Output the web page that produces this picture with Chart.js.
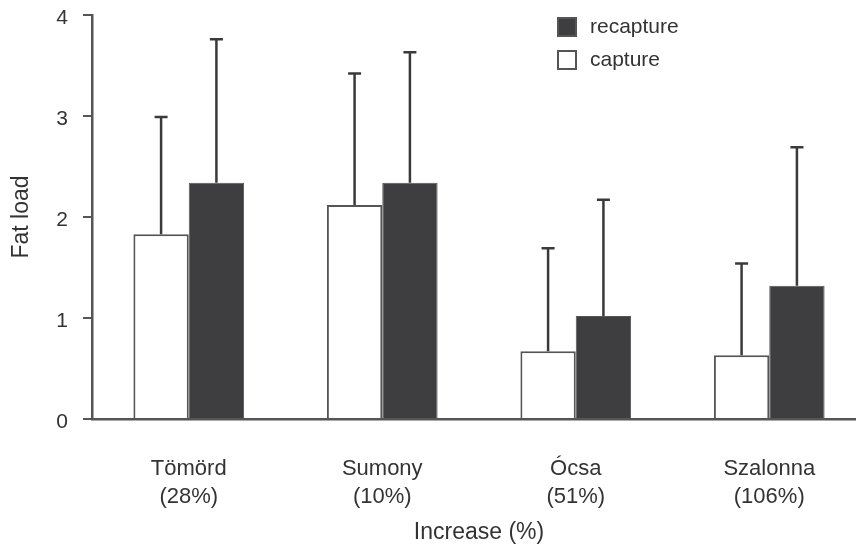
<!DOCTYPE html>
<html>
<head>
<meta charset="utf-8">
<script src="https://cdn.jsdelivr.net/npm/chart.js@4.4.1/dist/chart.umd.min.js"></script>
<style>
  html, body { margin: 0; padding: 0; background: #fff; overflow: hidden; }
  #wrap { width: 866px; height: 544px; position: relative; }
</style>
</head>
<body>
<div id="wrap"><canvas id="chart"></canvas></div>
<script>
const sites = ["Tömörd", "Sumony", "Ócsa", "Szalonna"];
const increases = ["28%", "10%", "51%", "106%"];
const capture = [1.83, 2.12, 0.67, 0.63];
const captureSD = [1.16, 1.30, 1.02, 0.91];
const recapture = [2.34, 2.34, 1.02, 1.32];
const recaptureSD = [1.42, 1.29, 1.15, 1.37];
const yTicks = [0, 1, 2, 3, 4];

const textColor = "#333";
const axisColor = "#555";
const darkFill = "#3e3e40";
const family = "'Liberation Sans', Arial, sans-serif";

Chart.defaults.font.family = family;
Chart.defaults.color = textColor;

// error bars: upward whisker from bar top with a small cap
const errorBars = {
  id: 'errorBars',
  afterDatasetsDraw(chart) {
    const ctx = chart.ctx;
    const y = chart.scales.y;
    ctx.save();
    ctx.strokeStyle = "#3a3a3a";
    ctx.lineWidth = 2.5;
    chart.data.datasets.forEach((ds, di) => {
      const meta = chart.getDatasetMeta(di);
      meta.data.forEach((bar, i) => {
        const top = y.getPixelForValue(ds.data[i] + ds.errors[i]);
        ctx.beginPath();
        ctx.moveTo(bar.x, bar.y);
        ctx.lineTo(bar.x, top);
        ctx.moveTo(bar.x - 6.5, top);
        ctx.lineTo(bar.x + 6.5, top);
        ctx.stroke();
      });
    });
    ctx.restore();
  }
};

// legend drawn inside the plot, recapture listed first
const boxLegend = {
  id: 'boxLegend',
  afterDraw(chart) {
    const ctx = chart.ctx;
    const items = chart.data.datasets.slice().reverse();
    ctx.save();
    items.forEach((ds, i) => {
      const top = 18 + i * 33;
      ctx.fillStyle = ds.backgroundColor;
      ctx.fillRect(558, top, 18, 18);
      ctx.strokeStyle = axisColor;
      ctx.lineWidth = 2;
      ctx.strokeRect(558, top, 18, 18);
      ctx.fillStyle = textColor;
      ctx.font = "21px " + family;
      ctx.textBaseline = "middle";
      ctx.textAlign = "left";
      ctx.fillText(ds.label, 590, top + 9);
    });
    ctx.restore();
  }
};

new Chart(document.getElementById('chart'), {
  type: 'bar',
  data: {
    labels: sites.map((s, i) => [s, "(" + increases[i] + ")"]),
    datasets: [
      {
        label: "capture",
        data: capture,
        errors: captureSD,
        backgroundColor: "#ffffff",
        borderColor: axisColor,
        borderWidth: 2,
        categoryPercentage: 0.572,
        barPercentage: 1
      },
      {
        label: "recapture",
        data: recapture,
        errors: recaptureSD,
        backgroundColor: darkFill,
        borderColor: axisColor,
        borderWidth: 1,
        categoryPercentage: 0.572,
        barPercentage: 1
      }
    ]
  },
  options: {
    responsive: true,
    maintainAspectRatio: false,
    animation: false,
    layout: { padding: { top: 15, left: 0, right: 0, bottom: 0 } },
    plugins: {
      legend: { display: false },
      tooltip: { enabled: false }
    },
    scales: {
      x: {
        grid: { display: false, drawTicks: false },
        border: { display: true, color: axisColor, width: 2.5 },
        ticks: {
          padding: 36,
          maxRotation: 0,
          autoSkip: false,
          color: textColor,
          font: { size: 22, lineHeight: 1.27 }
        },
        title: {
          display: true,
          text: "Increase (%)",
          color: textColor,
          font: { size: 23 },
          padding: { top: 0, bottom: -2 }
        },
        afterFit(scale) { scale.height = 125; }
      },
      y: {
        min: 0,
        max: 4,
        afterBuildTicks(scale) { scale.ticks = yTicks.map(v => ({ value: v })); },
        grid: {
          display: true,
          drawOnChartArea: false,
          drawTicks: true,
          tickLength: 9,
          color: axisColor,
          lineWidth: 2
        },
        border: { display: true, color: axisColor, width: 2.5 },
        ticks: {
          padding: 15,
          labelOffset: 3,
          color: textColor,
          font: { size: 21 }
        },
        title: {
          display: true,
          text: "Fat load",
          color: textColor,
          font: { size: 23 },
          padding: { top: 8, bottom: 0 }
        },
        afterFit(scale) {
          scale.width = 92;
          scale.paddingTop = 0;
          scale.paddingBottom = 0;
        }
      }
    }
  },
  plugins: [errorBars, boxLegend]
});
</script>
</body>
</html>
